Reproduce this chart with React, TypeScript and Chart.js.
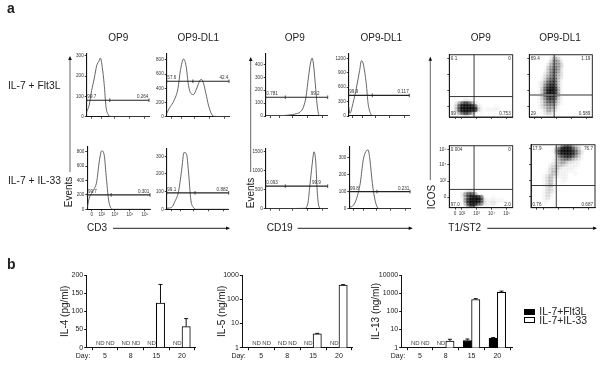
import React, { useEffect, useRef } from 'react';
import { Chart, registerables } from 'chart.js';

Chart.register(...registerables);

const FONT = '"Liberation Sans", Arial, sans-serif';
const INK = '#222';

// ---------- panel b data ----------
const days = ['5', '8', '15', '20'];
const il4Flt3L = [null, null, null, null];
const il4Il33 = [null, null, 123, 58];
const il4Il33High = [null, null, 174, 80];
const il5Flt3L = [null, null, null, null];
const il5Il33 = [null, null, 3.7, 380];
const il5Il33High = [null, null, 3.9, 400];
const il13Flt3L = [null, null, 2.5, 3.3];
const il13Flt3LHigh = [null, null, 3, 3.6];
const il13Il33 = [null, 2.3, 450, 1100];
const il13Il33High = [null, 2.9, 500, 1300];
const il4Ticks = [0, 50, 100, 150, 200];
const il5Ticks = [1, 10, 100, 1000];
const il13Ticks = [1, 10, 100, 1000, 10000];

// ---------- panel a histograms: [channel, events] ----------
const cd3Op9Flt = [[0,24],[4,57],[8,130],[12,186],[16,251],[20,276],[22,289],[25,243],[28,162],[31,49],[35,8],[39,0],[100,0]];
const cd3DlFlt = [[0,47],[4,116],[12,233],[18,395],[22,651],[27,814],[31,721],[35,442],[39,326],[43,312],[47,372],[51,465],[55,526],[58,502],[63,326],[67,163],[72,37],[76,5],[100,0]];
const cd3Op9Il33 = [[0,28],[3,152],[10,268],[15,383],[19,660],[23,813],[27,753],[30,476],[34,129],[37,28],[41,0],[100,0]];
const cd3DlIl33 = [[0,6],[8,11],[13,43],[19,99],[24,219],[28,322],[32,312],[35,219],[39,52],[43,11],[48,0],[100,0]];
const cd19Op9Flt = [[0,3],[23,3],[39,8],[47,15],[56,33],[61,71],[65,148],[69,301],[72,403],[75,449],[77,403],[80,250],[83,84],[86,8],[90,0],[100,0]];
const cd19DlFlt = [[0,192],[2,55],[7,261],[13,604],[18,947],[21,1152],[24,1084],[29,672],[32,261],[36,55],[40,0],[100,0]];
const cd19Op9Il33 = [[0,0],[63,9],[68,138],[71,569],[75,1172],[78,1491],[81,1172],[83,483],[86,52],[90,0],[100,0]];
const cd19DlIl33 = [[0,8],[7,21],[12,60],[18,148],[23,285],[27,333],[31,343],[34,285],[38,148],[43,41],[48,2],[53,0],[100,0]];

const flowChannelTicks = [7, 23, 44, 68, 92];
const flowChannelLabels = ['0', '10²', '10³', '10⁴', '10⁵'];

// ---------- panel a density plots: darkness 0-9 read per cell, top row first ----------
const icosOp9Flt = [
  '','','','','','','','','','','','','','','',
  '00001211',
  '0025787520',
  '013799997210000100',
  '013799999310111110',
  '0025787520100',
  '0000121',
];
const icosDlFlt = [
  '000000012100',
  '000000024310',
  '000000134420',
  '000000244430',
  '000001345420',
  '000001355420',
  '000002355320',
  '000012455320',
  '000013566310',
  '000124676310',
  '000125787310',
  '000136898410',
  '000136998410',
  '000136887410',
  '000135776310',
  '000124665210',
  '000124554210',
  '000123443100',
  '000012432100',
  '000012321',
  '00000111',
];
const icosOp9Il33 = [
  '','','','','','','','','','','','','','','',
  '00000122',
  '000025775',
  '00001479997100100',
  '00001589997211111100',
  '0000148997621121',
  '000002574110100',
];
const icosDlIl33 = [
  '00000000136775321',
  '00000001479997531',
  '00000001489998642',
  '00000000267887531',
  '00000001245664321',
  '0000000123432211',
  '0000001223321111',
  '000000223211111',
  '00000123211111',
  '000001232111001',
  '000012321111',
  '000012310011',
  '00001231001',
  '0000123100',
  '0000122100',
  '0000122100',
  '00001210',
  '00001210',
  '0000110',
  '00001',
  '',
];
const densityTicksX = [1.9, 4.2, 9, 14, 19];
const densityTicksY = [3.6, 9, 14.5, 19.8];
const densityLabelsY = ['0', '10³', '10⁴', '10⁵'];

type Rect = { l: number; t: number; r: number; b: number };

// places a canvas so that the chart area lands exactly on the given rect
function frame(rect: Rect, mL: number, mB: number, mT: number, mR: number) {
  const cl = Math.floor(rect.l - mL);
  const ct = Math.floor(rect.t - mT);
  const w = Math.ceil(rect.r + mR) - cl;
  const h = Math.ceil(rect.b + mB) - ct;
  return {
    cl, ct, w, h,
    left: rect.l - cl,
    top: rect.t - ct,
    right: cl + w - rect.r,
    bottom: ct + h - rect.b,
  };
}

function Plot({ rect, mL, mB, mT = 3, mR = 3, build }: any) {
  const ref = useRef<HTMLCanvasElement>(null);
  const f = frame(rect, mL, mB, mT, mR);
  useEffect(() => {
    const chart = new Chart(ref.current!, build(f));
    return () => chart.destroy();
  }, []);
  return (
    <canvas
      ref={ref}
      width={f.w}
      height={f.h}
      style={{ position: 'absolute', left: f.cl, top: f.ct, width: f.w, height: f.h }}
    />
  );
}

function baseOptions(f: any) {
  return {
    responsive: false,
    animation: false,
    devicePixelRatio: 1,
    layout: { autoPadding: false, padding: { left: 0, bottom: 0, top: f.top, right: f.right } },
    plugins: { legend: { display: false }, tooltip: { enabled: false } },
    events: [],
  };
}

function flowAxis(side: 'x' | 'y', f: any, ticks: number[], labels: string[] | null, min: number, max: number, strokes: any) {
  return {
    type: 'linear',
    min,
    max,
    position: side === 'x' ? 'bottom' : 'left',
    border: { color: strokes.axis, width: strokes.w },
    grid: { drawOnChartArea: false, drawTicks: true, tickLength: 2, color: strokes.axis, lineWidth: 0.8 },
    afterBuildTicks: (s: any) => { s.ticks = ticks.map((value) => ({ value })); },
    afterFit: (s: any) => {
      if (side === 'x') s.height = f.bottom; else s.width = f.left;
    },
    ticks: {
      autoSkip: false,
      maxRotation: 0,
      padding: 1,
      color: '#333',
      font: { size: 4.6, family: FONT },
      callback: (v: number) => {
        if (!labels) return '';
        const i = ticks.indexOf(v);
        return i < 0 ? '' : labels[i];
      },
    },
  };
}

function Histogram({ p }: any) {
  const build = (f: any) => {
    const yTicks: number[] = [];
    for (let v = 0; v <= p.yMax; v += p.step) yTicks.push(v);
    const flowText = {
      id: 'flowText',
      afterDatasetsDraw(c: any) {
        const { ctx, scales } = c;
        const y = scales.y.getPixelForValue(p.gate) - 1;
        ctx.save();
        ctx.font = `4.6px ${FONT}`;
        ctx.fillStyle = '#333';
        ctx.textBaseline = 'bottom';
        ctx.textAlign = 'left';
        ctx.fillText(p.lowLabel, scales.x.getPixelForValue(1), y);
        ctx.textAlign = 'right';
        ctx.fillText(p.highLabel, scales.x.getPixelForValue(p.highAt ?? 99), y);
        ctx.restore();
      },
    };
    return {
      type: 'scatter',
      data: {
        datasets: [
          {
            data: [
              { x: 0, y: p.gate },
              { x: p.gateTick, y: p.gate },
              { x: 100, y: p.gate },
            ],
            showLine: true,
            borderColor: '#222',
            borderWidth: 1.1,
            pointStyle: 'line',
            rotation: 90,
            pointRadius: 1.8,
            pointBorderColor: '#222',
            pointBorderWidth: 0.8,
            clip: false,
          },
          {
            data: p.curve.map(([x, y]: number[]) => ({ x, y })),
            showLine: true,
            borderColor: '#555',
            borderWidth: 0.9,
            cubicInterpolationMode: 'monotone',
            pointRadius: 0,
          },
        ],
      },
      options: {
        ...baseOptions(f),
        scales: {
          x: flowAxis('x', f, flowChannelTicks, p.xLabels ? flowChannelLabels : null, 0, 100, { axis: '#111', w: 1.1 }),
          y: flowAxis('y', f, yTicks, yTicks.map(String), 0, p.yMax, { axis: '#111', w: 1.1 }),
        },
      },
      plugins: [flowText],
    };
  };
  return <Plot rect={p.rect} mL={16} mB={p.xLabels ? 9 : 4} build={build} />;
}

function Density({ p }: any) {
  const build = (f: any) => {
    const cells: any[] = [];
    p.grid.forEach((row: string, r: number) => {
      row.split('').forEach((ch, c) => {
        const d = Number(ch);
        if (d > 0) cells.push({ x: c + 0.5, y: 20.5 - r, d });
      });
    });
    const corners = {
      id: 'corners',
      afterDatasetsDraw(c: any) {
        const { ctx, chartArea: a } = c;
        ctx.save();
        ctx.strokeStyle = '#111';
        ctx.lineWidth = 0.9;
        ctx.strokeRect(a.left, a.top, a.right - a.left, a.bottom - a.top);
        ctx.font = `4.6px ${FONT}`;
        ctx.fillStyle = '#333';
        ctx.textBaseline = 'top';
        ctx.textAlign = 'left';
        ctx.fillText(p.corners[0], a.left + 1.5, a.top + 2);
        ctx.textAlign = 'right';
        ctx.fillText(p.corners[1], a.right - 2, a.top + 2);
        ctx.textBaseline = 'bottom';
        ctx.textAlign = 'left';
        ctx.fillText(p.corners[2], a.left + 1.5, a.bottom - 1);
        ctx.textAlign = 'right';
        ctx.fillText(p.corners[3], a.right - 2, a.bottom - 1);
        ctx.restore();
      },
    };
    return {
      type: 'scatter',
      data: {
        datasets: [
          {
            data: [{ x: p.qx, y: 0 }, { x: p.qx, y: 21 }],
            showLine: true,
            borderColor: '#222',
            borderWidth: 0.9,
            pointRadius: 0,
          },
          {
            data: [{ x: 0, y: p.qy }, { x: 21, y: p.qy }],
            showLine: true,
            borderColor: p.hColor ?? '#222',
            borderWidth: p.hWidth ?? 0.9,
            pointRadius: 0,
          },
          {
            data: cells,
            pointStyle: 'circle',
            pointRadius: 2.7,
            pointBorderWidth: 0,
            backgroundColor: (ctx: any) => `rgba(0,0,0,${Math.pow((ctx.raw?.d ?? 0) / 9, 1.5) * 0.62})`,
          },
        ],
      },
      options: {
        ...baseOptions(f),
        scales: {
          x: flowAxis('x', f, densityTicksX, p.labels ? flowChannelLabels : null, 0, 21, { axis: '#222', w: 0.9 }),
          y: flowAxis('y', f, densityTicksY, p.labels ? densityLabelsY : null, 0, 21, { axis: '#222', w: 0.9 }),
        },
      },
      plugins: [corners],
    };
  };
  return <Plot rect={p.rect} mL={10} mB={p.labels ? 9 : 4} build={build} />;
}

function Bars({ p }: any) {
  const build = (f: any) => {
    const annot = {
      id: 'annot',
      afterDatasetsDraw(c: any) {
        const { ctx, scales } = c;
        ctx.save();
        ctx.strokeStyle = '#111';
        ctx.lineWidth = 1;
        ctx.fillStyle = '#444';
        ctx.font = `6px ${FONT}`;
        ctx.textAlign = 'center';
        ctx.textBaseline = 'middle';
        const sets = [
          { vals: p.flt, high: p.fltHigh, shift: -0.6 },
          { vals: p.il33, high: p.il33High, shift: 1.2 },
        ];
        const base = scales.y.bottom;
        sets.forEach((s, ds) => {
          const meta = c.getDatasetMeta(ds);
          s.vals.forEach((v: number | null, i: number) => {
            const x = meta.data[i].x;
            if (v === null) {
              ctx.fillText('ND', x + s.shift, base - 4);
              return;
            }
            const hi = s.high ? s.high[i] : null;
            if (hi !== null && hi !== undefined) {
              const y = scales.y.getPixelForValue(hi);
              ctx.beginPath();
              ctx.moveTo(x, meta.data[i].y);
              ctx.lineTo(x, y);
              ctx.moveTo(x - 2, y);
              ctx.lineTo(x + 2, y);
              ctx.stroke();
            }
          });
        });
        ctx.fillStyle = INK;
        ctx.font = `7px ${FONT}`;
        ctx.fillText('Day:', scales.x.left - 3.7, base + 8.5);
        ctx.restore();
      },
    };
    return {
      type: 'bar',
      data: {
        datasets: [
          {
            label: 'IL-7+Flt3L',
            data: p.flt.map((y: any, x: number) => ({ x, y })),
            backgroundColor: '#000',
            borderColor: '#000',
            borderWidth: 1,
            barThickness: 8.3,
          },
          {
            label: 'IL-7+IL-33',
            data: p.il33.map((y: any, x: number) => ({ x, y })),
            backgroundColor: '#fff',
            borderColor: '#000',
            borderWidth: 1,
            barThickness: 8.3,
          },
        ],
      },
      options: {
        ...baseOptions(f),
        scales: {
          x: {
            type: 'linear',
            min: p.xMin,
            max: p.xMax,
            offset: false,
            border: { color: '#111', width: 1 },
            grid: { drawOnChartArea: false, drawTicks: true, tickLength: 2.5, color: '#111' },
            afterBuildTicks: (s: any) => { s.ticks = days.map((_, value) => ({ value })); },
            afterFit: (s: any) => { s.height = f.bottom; },
            ticks: {
              autoSkip: false,
              maxRotation: 0,
              padding: 2,
              color: INK,
              font: { size: 7, family: FONT },
              callback: (v: number) => days[v] ?? '',
            },
          },
          y: {
            type: p.log ? 'logarithmic' : 'linear',
            min: p.yTicks[0],
            max: p.yTicks[p.yTicks.length - 1],
            border: { color: '#111', width: 1 },
            grid: { drawOnChartArea: false, drawTicks: true, tickLength: 2.5, color: '#111' },
            afterBuildTicks: (s: any) => { s.ticks = p.yTicks.map((value: number) => ({ value })); },
            afterFit: (s: any) => { s.width = f.left; },
            title: {
              display: true,
              text: p.title,
              color: INK,
              padding: 0,
              font: { size: 10, family: FONT },
            },
            ticks: {
              autoSkip: false,
              padding: 1,
              color: INK,
              font: { size: 7, family: FONT },
              callback: (v: number) => String(v),
            },
          },
        },
      },
      plugins: [annot],
    };
  };
  return <Plot rect={p.rect} mL={p.mL} mB={14} mT={6} mR={4} build={build} />;
}

const histograms = [
  { rect: { l: 86.7, t: 53, r: 149, b: 116.7 }, curve: cd3Op9Flt, yMax: 310, step: 100, gate: 81, gateTick: 37, lowLabel: '99.7', highLabel: '0.264' },
  { rect: { l: 166.7, t: 53, r: 229, b: 116.7 }, curve: cd3DlFlt, yMax: 888, step: 200, gate: 500, gateTick: 42, lowLabel: '57.6', highLabel: '42.4' },
  { rect: { l: 87.3, t: 146.7, r: 150, b: 209.3 }, curve: cd3Op9Il33, yMax: 870, step: 200, gate: 200, gateTick: 38, lowLabel: '99.7', highLabel: '0.301', xLabels: true },
  { rect: { l: 166.7, t: 148, r: 228.7, b: 209.3 }, curve: cd3DlIl33, yMax: 343, step: 100, gate: 93, gateTick: 45.7, lowLabel: '99.1', highLabel: '0.882' },
  { rect: { l: 265.7, t: 53, r: 327.7, b: 116 }, curve: cd19Op9Flt, yMax: 482, step: 100, gate: 145, gateTick: 31.6, lowLabel: '0.781', highLabel: '99.2', highAt: 87 },
  { rect: { l: 348.7, t: 53, r: 409.3, b: 116 }, curve: cd19DlFlt, yMax: 1297, step: 300, gate: 430, gateTick: 39, lowLabel: '99.9', highLabel: '0.117' },
  { rect: { l: 265.7, t: 148, r: 327.7, b: 208.7 }, curve: cd19Op9Il33, yMax: 1570, step: 500, gate: 590, gateTick: 31.6, lowLabel: '0.093', highLabel: '99.9', highAt: 89 },
  { rect: { l: 349.3, t: 146.7, r: 410, b: 208.7 }, curve: cd19DlIl33, yMax: 362, step: 100, gate: 100, gateTick: 45.6, lowLabel: '99.8', highLabel: '0.231' },
];

const densities = [
  { rect: { l: 449.3, t: 54.3, r: 512.7, b: 117 }, grid: icosOp9Flt, qx: 8.2, qy: 6.9, corners: ['0.1', '0', '99', '0.753'] },
  { rect: { l: 529.3, t: 54.3, r: 592.3, b: 117 }, grid: icosDlFlt, qx: 8.3, qy: 7.4, corners: ['69.4', '1.19', '29', '0.589'], hColor: '#777', hWidth: 1.6 },
  { rect: { l: 449.3, t: 145.7, r: 512.7, b: 207.7 }, grid: icosOp9Il33, qx: 8.2, qy: 6.2, corners: ['0.004', '0', '97.0', '2.0'], labels: true },
  { rect: { l: 531, t: 144.3, r: 595, b: 207.7 }, grid: icosDlIl33, qx: 8.3, qy: 7.4, corners: ['17.9', '76.7', '0.76', '0.687'] },
];

const barPanels = [
  { rect: { l: 86.7, t: 275, r: 195, b: 347.7 }, mL: 27, title: 'IL-4 (pg/ml)', flt: il4Flt3L, il33: il4Il33, il33High: il4Il33High, yTicks: il4Ticks, xMin: -0.713, xMax: 3.506 },
  { rect: { l: 242.3, t: 275, r: 352.7, b: 347.7 }, mL: 26.3, title: 'IL-5 (ng/ml)', flt: il5Flt3L, il33: il5Il33, il33High: il5Il33High, yTicks: il5Ticks, log: true, xMin: -0.734, xMax: 3.53 },
  { rect: { l: 401.7, t: 275, r: 512.3, b: 347.7 }, mL: 31.7, title: 'IL-13 (ng/ml)', flt: il13Flt3L, fltHigh: il13Flt3LHigh, il33: il13Il33, il33High: il13Il33High, yTicks: il13Ticks, log: true, xMin: -0.71, xMax: 3.58 },
];

const arrows = [
  { x1: 70, y1: 172, x2: 70, y2: 57, color: '#666' },
  { x1: 113, y1: 228.3, x2: 229, y2: 228.3, color: '#222' },
  { x1: 250.7, y1: 172, x2: 250.7, y2: 58, color: '#666' },
  { x1: 297.7, y1: 228.3, x2: 411.7, y2: 228.3, color: '#222' },
  { x1: 430.3, y1: 180, x2: 430.3, y2: 57.7, color: '#666' },
  { x1: 487.3, y1: 228.3, x2: 596, y2: 228.3, color: '#222' },
];

function Label({ x, y, size = 10, bold, rotate, anchor = 'center', children }: any) {
  const tx = anchor === 'center' ? '-50%' : '0';
  return (
    <span
      style={{
        position: 'absolute',
        left: x,
        top: y,
        fontFamily: FONT,
        fontSize: size,
        fontWeight: bold ? 700 : 400,
        lineHeight: 1,
        color: INK,
        whiteSpace: 'nowrap',
        transform: `translate(${tx}, -50%)${rotate ? ' rotate(-90deg)' : ''}`,
      }}
    >
      {children}
    </span>
  );
}

export default function App() {
  return (
    <div style={{ position: 'fixed', left: 0, top: 0, width: 600, height: 368, background: '#fff', overflow: 'hidden', filter: 'blur(0.3px)' }}>
      {histograms.map((p, i) => <Histogram key={i} p={p} />)}
      {densities.map((p, i) => <Density key={i} p={p} />)}
      {barPanels.map((p, i) => <Bars key={i} p={p} />)}

      <svg width={600} height={368} style={{ position: 'absolute', left: 0, top: 0, pointerEvents: 'none' }}>
        {arrows.map((a, i) => {
          const vertical = a.x1 === a.x2;
          const head = vertical
            ? `${a.x2},${a.y2 - 1} ${a.x2 - 1.8},${a.y2 + 3} ${a.x2 + 1.8},${a.y2 + 3}`
            : `${a.x2 + 1},${a.y2} ${a.x2 - 3},${a.y2 - 1.8} ${a.x2 - 3},${a.y2 + 1.8}`;
          return (
            <g key={i}>
              <line x1={a.x1} y1={a.y1} x2={a.x2} y2={a.y2} stroke={a.color} strokeWidth={1} />
              <polygon points={head} fill="#111" />
            </g>
          );
        })}
      </svg>

      <Label x={7} y={8} size={14} bold anchor="left">a</Label>
      <Label x={7} y={264} size={14} bold anchor="left">b</Label>

      <Label x={118.3} y={38}>OP9</Label>
      <Label x={198.3} y={38}>OP9-DL1</Label>
      <Label x={294.7} y={38}>OP9</Label>
      <Label x={381.3} y={38}>OP9-DL1</Label>
      <Label x={480.7} y={38}>OP9</Label>
      <Label x={560} y={38}>OP9-DL1</Label>

      <Label x={8} y={86} size={10.3} anchor="left">IL-7 + Flt3L</Label>
      <Label x={8} y={181} size={10.3} anchor="left">IL-7 + IL-33</Label>

      <Label x={69.3} y={192} rotate>Events</Label>
      <Label x={250.7} y={192.7} rotate>Events</Label>
      <Label x={431.7} y={196.7} rotate>ICOS</Label>
      <Label x={87} y={228} anchor="left">CD3</Label>
      <Label x={266.7} y={228} size={10.2} anchor="left">CD19</Label>
      <Label x={448.3} y={228} anchor="left">T1/ST2</Label>

      <div style={{ position: 'absolute', left: 524, top: 308.5, width: 11, height: 6.5, background: '#000' }} />
      <div style={{ position: 'absolute', left: 524, top: 316.5, width: 11, height: 6.5, boxSizing: 'border-box', background: '#fff', border: '1px solid #000' }} />
      <Label x={539.3} y={312} size={10.4} anchor="left">IL-7+Flt3L</Label>
      <Label x={539.3} y={320.7} size={10.4} anchor="left">IL-7+IL-33</Label>
    </div>
  );
}
